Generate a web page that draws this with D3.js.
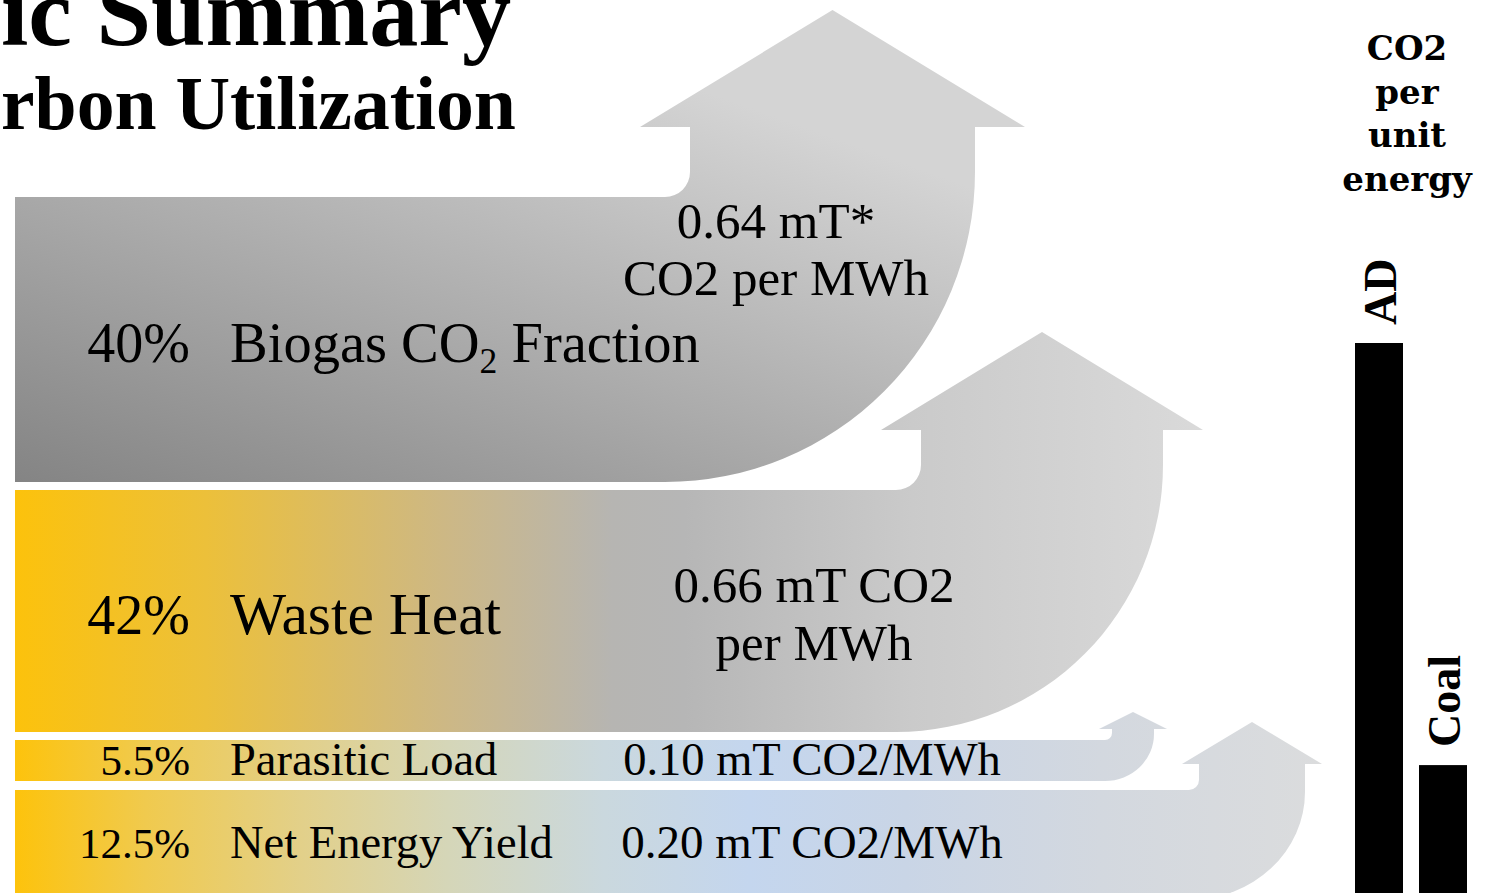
<!DOCTYPE html>
<html>
<head>
<meta charset="utf-8">
<script src="https://cdn.jsdelivr.net/npm/d3@7"></script>
<style>
  html, body { margin: 0; padding: 0; background: #ffffff; overflow: hidden; }
  svg { display: block; }
</style>
</head>
<body>
<svg id="chart" width="1501" height="893"></svg>
<script>
// ---------------- DATA ----------------
// title as visible in the (cropped) reference picture
const titleLines = ["ic Summary", "rbon Utilization"];
const flowPercents = ["40%", "42%", "5.5%", "12.5%"];
const flowNames = ["Biogas CO|2| Fraction", "Waste Heat", "Parasitic Load", "Net Energy Yield"];
const flowCO2Labels = [
  ["0.64 mT*", "CO2 per MWh"],
  ["0.66 mT CO2", "per MWh"],
  ["0.10 mT CO2/MWh"],
  ["0.20 mT CO2/MWh"]
];
const sideTitle = ["CO2", "per", "unit", "energy"];
const barCategories = ["AD", "Coal"];
const barValues = [4.3, 1.0];

// ---------------- LAYOUT (geometry / style, not data) ----------------
const arrowLayout = [
  { top: 197, bottom: 482, shaftX: 690,  shaftW: 285, corner: 25, curveY: 172, headBase: 127, headTip: 10,  wing: 50 },
  { top: 490, bottom: 732, shaftX: 921,  shaftW: 242, corner: 25, curveY: 465, headBase: 430, headTip: 332, wing: 40 },
  { top: 740, bottom: 781, shaftX: 1112, shaftW: 42,  corner: 7,  curveY: 734, headBase: 729, headTip: 712, wing: 13 },
  { top: 790, bottom: 900, shaftX: 1199, shaftW: 106, corner: 10, curveY: 792, headBase: 764, headTip: 722, wing: 17 }
];
const leftX = 15;
const textLayout = [
  { pctSize: 56, size: 56.5, base: 362, co2X: 776, co2Size: 51, co2Base: [238, 295] },
  { pctSize: 56, size: 59.5, base: 634, co2X: 814, co2Size: 51, co2Base: [602, 660] },
  { pctSize: 43, size: 46.5, base: 775, co2X: 812, co2Size: 46.5, co2Base: [775] },
  { pctSize: 43, size: 46.5, base: 858, co2X: 812, co2Size: 47, co2Base: [858] }
];

const svg = d3.select("#chart");
const defs = svg.append("defs");

// gradients
const g0 = defs.append("linearGradient").attr("id", "grad0")
  .attr("gradientUnits", "userSpaceOnUse")
  .attr("x1", 15).attr("y1", 482).attr("x2", 219).attr("y2", -84);
g0.append("stop").attr("offset", 0).attr("stop-color", "#848484");
g0.append("stop").attr("offset", 1).attr("stop-color", "#d4d4d4");

const g1 = defs.append("linearGradient").attr("id", "grad1")
  .attr("gradientUnits", "userSpaceOnUse")
  .attr("x1", 15).attr("y1", 0).attr("x2", 1210).attr("y2", 0);
[[0, "#fcc20c"], [0.16, "#ecc03a"], [0.36, "#cdb885"], [0.5, "#b6b5b2"], [0.56, "#b6b6b6"], [0.75, "#cacaca"], [1, "#dadada"]]
  .forEach(([o, c]) => g1.append("stop").attr("offset", o).attr("stop-color", c));

const g2 = defs.append("linearGradient").attr("id", "grad2")
  .attr("gradientUnits", "userSpaceOnUse")
  .attr("x1", 15).attr("y1", 0).attr("x2", 1325).attr("y2", 0);
[[0, "#fdc30c"], [0.1, "#f0ca4e"], [0.22, "#e2d08a"], [0.33, "#d5d6b8"], [0.45, "#cad8de"], [0.56, "#c4d6ee"], [0.68, "#c9d5e6"], [0.83, "#d3d8df"], [1, "#dbdcdd"]]
  .forEach(([o, c]) => g2.append("stop").attr("offset", o).attr("stop-color", c));

const fills = ["url(#grad0)", "url(#grad1)", "url(#grad2)", "url(#grad2)"];

function arrowPath(L) {
  const p = d3.path();
  const X = L.shaftX, c = L.corner, w = L.shaftW;
  p.moveTo(leftX, L.top);
  p.lineTo(X - c, L.top);
  p.arcTo(X, L.top, X, L.top - c, c);
  p.lineTo(X, L.headBase);
  p.lineTo(X - L.wing, L.headBase);
  p.lineTo(X + w / 2, L.headTip);
  p.lineTo(X + w + L.wing, L.headBase);
  p.lineTo(X + w, L.headBase);
  p.lineTo(X + w, L.curveY);
  let d = p.toString();
  const rx = w + c, ry = L.bottom - L.curveY;
  d += `A${rx},${ry},0,0,1,${X - c},${L.bottom}`;
  d += `L${leftX},${L.bottom}Z`;
  return d;
}

svg.append("g").selectAll("path")
  .data(arrowLayout)
  .join("path")
  .attr("d", d => arrowPath(d))
  .attr("fill", (d, i) => fills[i]);

// ---------- row labels ----------
const serif = "'Liberation Serif', 'Times New Roman', serif";
const rows = svg.append("g").attr("font-family", serif).attr("fill", "#000");

flowPercents.forEach((pct, i) => {
  const T = textLayout[i];
  rows.append("text")
    .attr("x", 190).attr("y", T.base)
    .attr("text-anchor", "end")
    .attr("font-size", T.pctSize)
    .text(pct);

  const nameText = rows.append("text")
    .attr("x", 230).attr("y", T.base)
    .attr("font-size", T.size);
  const parts = flowNames[i].split("|");
  if (parts.length === 3) {
    nameText.append("tspan").text(parts[0]);
    nameText.append("tspan").attr("font-size", T.size * 0.63).attr("dy", 11).text(parts[1]);
    nameText.append("tspan").attr("dy", -11).text(parts[2]);
  } else {
    nameText.text(parts[0]);
  }

  flowCO2Labels[i].forEach((line, j) => {
    rows.append("text")
      .attr("x", T.co2X).attr("y", T.co2Base[j])
      .attr("text-anchor", "middle")
      .attr("font-size", T.co2Size)
      .text(line);
  });
});

// ---------- title (fitted to the visible width) ----------
const titleG = svg.append("g").attr("font-family", serif).attr("font-weight", "bold").attr("fill", "#000");
[[titleLines[0], 45, 511, 96], [titleLines[1], 129, 516, 80]].forEach(([txt, y, right, fs]) => {
  const t = titleG.append("text").attr("x", 1).attr("y", y).attr("font-size", fs).text(txt);
  const w = t.node().getComputedTextLength();
  const nfs = fs * (right - 1) / w;
  t.attr("font-size", nfs);
});

// ---------- side bar chart ----------
const sideG = svg.append("g");
sideG.append("text")
  .attr("font-family", "'DejaVu Serif', serif")
  .attr("font-weight", "bold")
  .attr("font-size", 34)
  .attr("text-anchor", "middle")
  .selectAll("tspan")
  .data(sideTitle)
  .join("tspan")
  .attr("x", 1407)
  .attr("y", (d, i) => 60 + i * 43.5)
  .text(d => d);

const xBar = d3.scaleBand().domain(barCategories).range([1355, 1467]).paddingInner(0.25).paddingOuter(0);
const yBar = d3.scaleLinear().domain([0, 4.3]).range([893, 343]);

sideG.selectAll("rect.bar")
  .data(barCategories)
  .join("rect")
  .attr("class", "bar")
  .attr("x", d => xBar(d))
  .attr("width", xBar.bandwidth())
  .attr("y", (d, i) => yBar(barValues[i]))
  .attr("height", (d, i) => yBar(0) - yBar(barValues[i]) + 10)
  .attr("fill", "#000");

sideG.selectAll("text.barlabel")
  .data(barCategories)
  .join("text")
  .attr("class", "barlabel")
  .attr("font-family", serif)
  .attr("font-weight", "bold")
  .attr("font-size", 46)
  .attr("transform", (d, i) => `translate(${xBar(d) + xBar.bandwidth() / 2 + 17},${yBar(barValues[i]) - 18}) rotate(-90)`)
  .text(d => d);
</script>
</body>
</html>
